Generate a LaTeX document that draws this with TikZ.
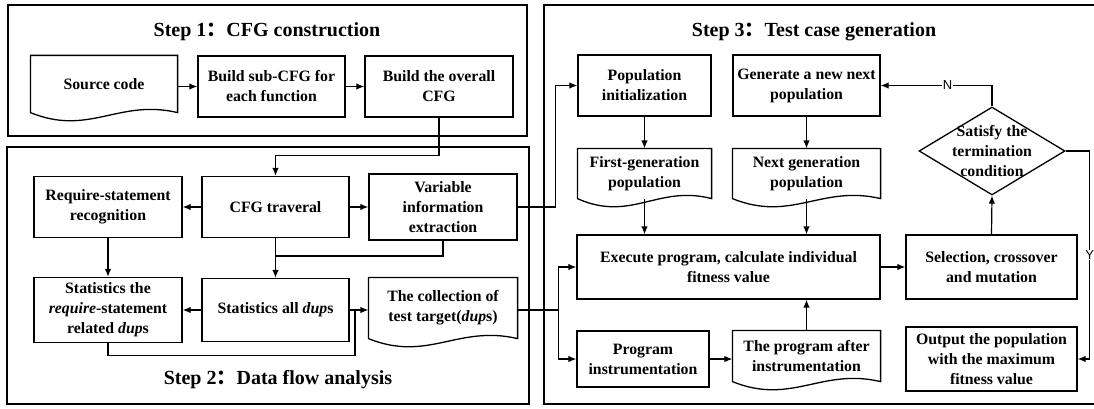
\documentclass[tikz,border=0pt]{standalone}
\usepackage{fontspec}
\setmainfont{Liberation Serif}
\setsansfont{Liberation Sans}
\newfontfamily\cjkfont{Noto Sans CJK SC}
\usetikzlibrary{arrows.meta,shapes.geometric,calc}

\newcommand{\docoutline}[1]{%
  \draw[line width=1.3pt] (#1.south west) -- (#1.north west) -- (#1.north east) -- (#1.south east)
    .. controls ($(#1.south east)!0.4!(#1.south west)+(0,-14)$) and ($(#1.south east)!0.6!(#1.south west)+(0,24)$) .. (#1.south west) -- cycle;}

\begin{document}
\begin{tikzpicture}
[x=1pt,y=-1pt,line width=1.2pt,%
  >={Latex[length=8pt,width=6.5pt]},%
  every node/.style={align=center,inner sep=0pt},%
  procbox/.style={draw,line width=1.3pt,minimum height=61pt},%
  docbox/.style={minimum height=56pt},%
  stepframe/.style={line width=1.5pt},%
  steptitle/.style={font=\fontsize{20}{24}\selectfont\bfseries},%
  branchlabel/.style={font=\fontsize{13}{15}\selectfont\sffamily\mdseries,fill=white,inner sep=1pt}]
\fontsize{15.8}{20}\selectfont\bfseries
\clip (0,0) rectangle (1094,409);

\draw[stepframe] (8,5) rectangle (527,136);
\draw[stepframe] (7,147) rectangle (529,404);
\draw[stepframe] (544,5) rectangle (1100,404);

\node[steptitle] (title1) at (267,32) {Step 1{\cjkfont ：}CFG construction};
\node[steptitle] (title2) at (278,380) {Step 2{\cjkfont ：}Data flow analysis};
\node[steptitle] (title3) at (814,32) {Step 3{\cjkfont ：}Test case generation};

\node[docbox,minimum width=146pt] (srccode) at (104,84) {Source code};
\node[procbox,minimum width=147pt] (subcfg) at (271.5,86.5) {Build sub-CFG for\\each function};
\node[procbox,minimum width=148pt] (overallcfg) at (439,86.5) {Build the overall\\CFG};
\docoutline{srccode}

\node[procbox,minimum width=148pt] (reqrecog) at (108,207) {Require-statement\\recognition};
\node[procbox,minimum width=147pt] (cfgtrav) at (275.5,207) {CFG traveral};
\node[procbox,minimum width=148pt,minimum height=66pt] (varinfo) at (443,207) {Variable\\information\\extraction};
\node[procbox,minimum width=148pt,minimum height=65pt] (reqdups) at (108,310) {Statistics the\\\textit{require}-statement\\related \textit{dup}s};
\node[procbox,minimum width=147pt,minimum height=63pt] (alldups) at (275.5,310) {Statistics all \textit{dup}s};
\node[docbox,minimum width=148pt,minimum height=60pt] (targets) at (443,308) {The collection of\\test target(\textit{dup}s)};
\docoutline{targets}

\node[procbox,minimum width=133pt] (popinit) at (644.5,85.5) {Population\\initialization};
\node[procbox,minimum width=147pt] (newpop) at (806.5,85.5) {Generate a new next\\population};
\node[docbox,minimum width=133pt,minimum height=49pt] (firstpop) at (644.5,173.5) {First-generation\\population};
\node[docbox,minimum width=147pt,minimum height=49pt] (nextpop) at (806.5,173.5) {Next generation\\population};
\docoutline{firstpop}
\docoutline{nextpop}
\node[draw,diamond,line width=1.3pt,minimum width=146pt,minimum height=88pt] (termcond) at (992,151) {};
\node (termtext) at (termcond) {Satisfy the\\termination\\condition};
\node[procbox,minimum width=303pt,minimum height=64pt] (execprog) at (728.5,267) {Execute program, calculate individual\\fitness value};
\node[procbox,minimum width=171pt,minimum height=64pt] (selection) at (991.5,267) {Selection, crossover\\and mutation};
\node[procbox,minimum width=132pt,minimum height=56pt] (instrument) at (643,359) {Program\\instrumentation};
\node[docbox,minimum width=147pt,minimum height=50pt] (instrprog) at (806.5,356) {The program after\\instrumentation};
\docoutline{instrprog}
\node[procbox,minimum width=171pt,minimum height=64pt] (bestpop) at (991.5,359) {Output the population\\with the maximum\\fitness value};

\draw[->] (srccode.east |- subcfg.west) -- (subcfg.west);
\draw[->] (subcfg.east) -- (overallcfg.west);
\draw[->] (overallcfg.south) -- ++(0,38) -| (cfgtrav.north);
\draw[->] (cfgtrav.west) -- (reqrecog.east);
\draw[->] (cfgtrav.east) -- (varinfo.west);
\draw[->] (reqrecog.south) -- (reqdups.north);
\draw[->] (cfgtrav.south) -- (alldups.north);
\coordinate (travjoin) at (275.5,256);
\draw (varinfo.south) |- (travjoin);
\draw[->] (alldups.west) -- (reqdups.east);
\draw[->] (alldups.east) -- (targets.west |- alldups.east);
\coordinate (dupjoin) at (355,310);
\draw (reqdups.south) -- ++(0,12) -| (dupjoin);
\draw[->] (varinfo.east) -- ++(38,0) |- (popinit.west);
\draw (targets.east |- alldups.east) -- ++(41,0) coordinate (split);
\draw[->] (split) |- (execprog.west);
\draw[->] (split) |- (instrument.west);

\draw[->] (popinit.south) -- (firstpop.north);
\draw[->] (newpop.south) -- (nextpop.north);
\draw[->] (firstpop.south) -- (firstpop.south |- execprog.north);
\draw[->] (nextpop.south) -- (nextpop.south |- execprog.north);
\draw[->] (instrument.east) -- (instrument.east -| instrprog.west);
\draw[->] (instrprog.north) -- (instrprog.north |- execprog.south);
\draw[->] (execprog.east) -- (selection.west);
\draw[->] (selection.north) -- (termcond.south);
\draw[->] (termcond.north) |- node[branchlabel,pos=0.7] (nolabel) {N} (newpop.east);
\draw[->] (termcond.east) -- ++(24,0) |- node[branchlabel,pos=0.25] (yeslabel) {Y} (bestpop.east);
\end{tikzpicture}
\end{document}
